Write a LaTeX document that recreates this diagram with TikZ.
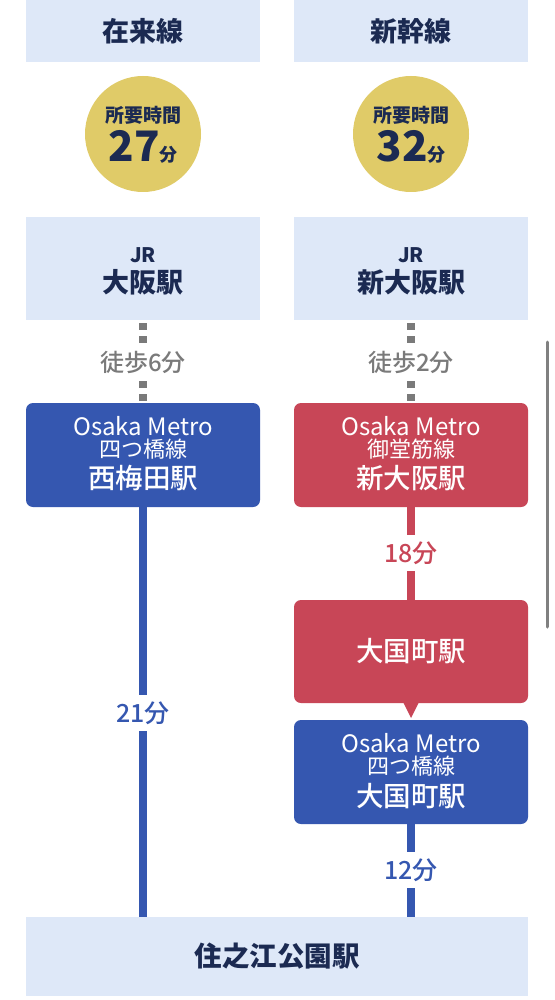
\documentclass[tikz,border=0pt]{standalone}
\usepackage{fontspec}
\setmainfont{Noto Sans CJK JP}
\newfontfamily\medfont{Noto Sans CJK JP Medium}
\definecolor{lightbg}{HTML}{DEE8F8}
\definecolor{navy}{HTML}{1B2A52}
\definecolor{gold}{HTML}{E0CB68}
\definecolor{mblue}{HTML}{3557B0}
\definecolor{mred}{HTML}{C84657}
\definecolor{walkgray}{HTML}{7A7A7A}
\definecolor{scrollgray}{HTML}{808080}
\newcommand{\fs}[1]{\fontsize{#1}{#1}\selectfont}
\tikzset{
  lbox/.style={fill=lightbg, minimum width=234pt, inner sep=0pt},
  metrobox/.style={minimum width=234pt, minimum height=104pt, rounded corners=7pt, inner sep=0pt},
  timecircle/.style={circle, fill=gold, minimum size=116pt, inner sep=0pt},
  navytext/.style={text=navy, font=\fs{27}\bfseries},
  whitetext/.style={text=white},
  latintext/.style={text=white, font=\fs{24}},
  stationtext/.style={text=white, font=\fs{27.5}\medfont},
  walkline/.style={draw=walkgray, line width=7.5pt, dash pattern=on 6.5pt off 6.5pt, dash phase=10pt},
  walklabel/.style={text=walkgray, font=\fs{24}\medfont, minimum height=32pt, fill=white},
  blueline/.style={draw=mblue, line width=8pt},
  redline/.style={draw=mred, line width=8pt},
  minlabel/.style={font=\fs{25}\medfont, minimum height=36pt, fill=white},
}
\begin{document}
\begin{tikzpicture}[x=1pt, y=-1pt, every node/.style={inner sep=0pt, outer sep=0pt}]
\useasboundingbox (0,0) rectangle (554,1000);
\fill[white] (0,0) rectangle (554,1000);

% headers
\node[lbox, minimum height=62pt, navytext] (hL) at (143,31) {在来線};
\node[lbox, minimum height=62pt, navytext] (hR) at (411,31) {新幹線};

% time circles
\node[timecircle] (cL) at (143,134) {};
\node[timecircle] (cR) at (411,134) {};
\node[text=navy, font=\fs{19}\bfseries] (cLa) at (143,115) {所要時間};
\node[text=navy, font=\fs{42}\bfseries] (cLb) at (143,147) {27\fs{18}分};
\node[text=navy, font=\fs{19}\bfseries] (cRa) at (411,115) {所要時間};
\node[text=navy, font=\fs{42}\bfseries] (cRb) at (411,147) {32\fs{18}分};

% JR stations
\node[lbox, minimum height=103pt] (jrL) at (143,268.5) {};
\node[lbox, minimum height=103pt] (jrR) at (411,268.5) {};
\node[text=navy, font=\fs{20}\bfseries] (jrLa) at (143,255) {JR};
\node[navytext] (jrLb) at (143,282) {大阪駅};
\node[text=navy, font=\fs{20}\bfseries] (jrRa) at (411,255) {JR};
\node[navytext] (jrRb) at (411,282) {新大阪駅};

% metro boxes (first)
\node[metrobox, fill=mblue] (mL) at (143,455) {};
\node[metrobox, fill=mred] (mR) at (411,455) {};
\node[latintext] (mLa) at (143,426) {Osaka Metro};
\node[whitetext, font=\fs{22}] (mLb) at (143,449) {四つ橋線};
\node[stationtext] (mLc) at (143,478) {西梅田駅};
\node[latintext] (mRa) at (411,426) {Osaka Metro};
\node[whitetext, font=\fs{22}] (mRb) at (411,449) {御堂筋線};
\node[stationtext] (mRc) at (411,478) {新大阪駅};

% walking connectors
\node[walklabel] (wL) at (143,362) {徒歩6分};
\node[walklabel] (wR) at (411,362) {徒歩2分};
\draw[walkline] (jrL.south) -- (wL.north);
\draw[walkline] (wL.south) -- (mL.north);
\draw[walkline] (jrR.south) -- (wR.north);
\draw[walkline] (wR.south) -- (mR.north);

% transfer station (red)
\node[metrobox, fill=mred, minimum height=103pt, stationtext] (dkR) at (411,651.5) {大国町駅};
\fill[mred] ([xshift=-8pt, yshift=1pt]dkR.south) -- ([xshift=8pt, yshift=1pt]dkR.south) -- ([yshift=-15pt]dkR.south) -- cycle;

% transfer station (blue)
\node[metrobox, fill=mblue] (ykR) at (411,772) {};
\node[latintext] (ykRa) at (411,743) {Osaka Metro};
\node[whitetext, font=\fs{22}] (ykRb) at (411,766) {四つ橋線};
\node[stationtext] (ykRc) at (411,796) {大国町駅};

% destination
\node[lbox, minimum width=502pt, minimum height=79pt, text=navy, font=\fs{27.5}\bfseries] (goal) at (277,956) {住之江公園駅};

% ride connectors
\node[minlabel, text=mblue] (t21) at (143,713) {21分};
\draw[blueline] (mL.south) -- (t21.north);
\draw[blueline] (t21.south) -- (mL.south |- goal.north);

\node[minlabel, text=mred] (t18) at (411,553) {18分};
\draw[redline] (mR.south) -- (t18.north);
\draw[redline] (t18.south) -- (dkR.north);

\node[minlabel, text=mblue] (t12) at (411,870) {12分};
\draw[blueline] (ykR.south) -- (t12.north);
\draw[blueline] (t12.south) -- (ykR.south |- goal.north);

% scrollbar
\draw[scrollgray, line width=3pt, line cap=round] (547,342) -- (547,627);
\end{tikzpicture}
\end{document}
